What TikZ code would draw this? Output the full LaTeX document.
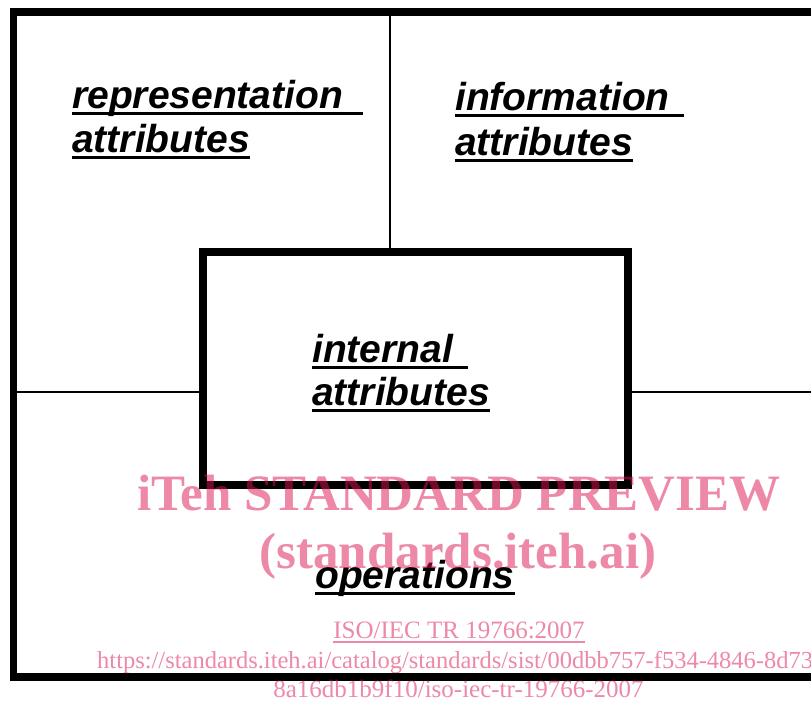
\documentclass[tikz,border=0pt]{standalone}
\usepackage{fontspec}
\usetikzlibrary{positioning}
\newfontfamily\labfamily{Liberation Sans}
\newfontfamily\wmfamily{Liberation Serif}
\definecolor{wmpink}{RGB}{220,20,80}
\newcommand{\ulword}[2][0pt]{\setbox0\hbox{#2}\rlap{\rule[-7pt]{\dimexpr\wd0+#1\relax}{3pt}}\box0}
\newcommand{\ulthin}[1]{\setbox0\hbox{#1}\rlap{\rule[-4.6pt]{\wd0}{1.2pt}}\box0}

\begin{document}
\begin{tikzpicture}[x=1pt, y=-1pt,
  frame/.style={draw, line width=7.5pt, minimum width=816pt, minimum height=665pt, inner sep=0pt},
  inbox/.style={draw, line width=7.5pt, minimum width=425pt, minimum height=233pt, inner sep=0pt},
  divider/.style={line width=2.8pt},
  lab/.style={font=\labfamily\bfseries\itshape\fontsize{39}{44}\selectfont, inner sep=0pt, anchor=base west},
  wm/.style={text=wmpink, text opacity=0.5, inner sep=0pt, anchor=base},
  wmbig/.style={wm, font=\wmfamily\bfseries\fontsize{51}{56}\selectfont},
  wmsmall/.style={wm, font=\wmfamily\fontsize{25}{28}\selectfont}
]
\useasboundingbox[fill=white] (0,0) rectangle (811,705);
\node[frame] (F) at (421.5,344.5) {};
\node[inbox] (I) at (415.5,368.5) {};
\coordinate (split) at (390,12);
\draw[divider] (split) -- (split |- I.north);
\draw[divider] (F.west |- 0,392) -- (I.west |- 0,392);
\draw[divider] (I.east |- 0,392) -- (F.east |- 0,392);

\node[lab] (rep1) at (72,108) {\ulword[20pt]{representation}};
\node[lab] (rep2) at ([yshift=-44pt]rep1.base west) {\ulword{attributes}};
\node[lab] (inf1) at (455,110) {\ulword[14pt]{information}};
\node[lab] (inf2) at ([yshift=-45pt]inf1.base west) {\ulword{attributes}};
\node[lab] (int1) at (312,362) {\ulword[15pt]{internal}};
\node[lab] (int2) at ([yshift=-43pt]int1.base west) {\ulword{attributes}};
\node[lab] (ops) at (315,588) {\ulword{operations}};

\node[wmbig] (wm1) at (459,510) {iTeh STANDARD PREVIEW};
\node[wmbig] (wm2) at (458,568) {(standards.iteh.ai)};
\node[wmsmall] (wm3) at (459,638) {\ulthin{ISO/IEC TR 19766:2007}};
\node[wmsmall, font=\wmfamily\fontsize{24.5}{28}\selectfont, anchor=base west] (wm4) at (97,668) {https://standards.iteh.ai/catalog/standards/sist/00dbb757-f534-4846-8d73};
\node[wmsmall] (wm5) at (458.5,697) {8a16db1b9f10/iso-iec-tr-19766-2007};
\end{tikzpicture}
\end{document}
